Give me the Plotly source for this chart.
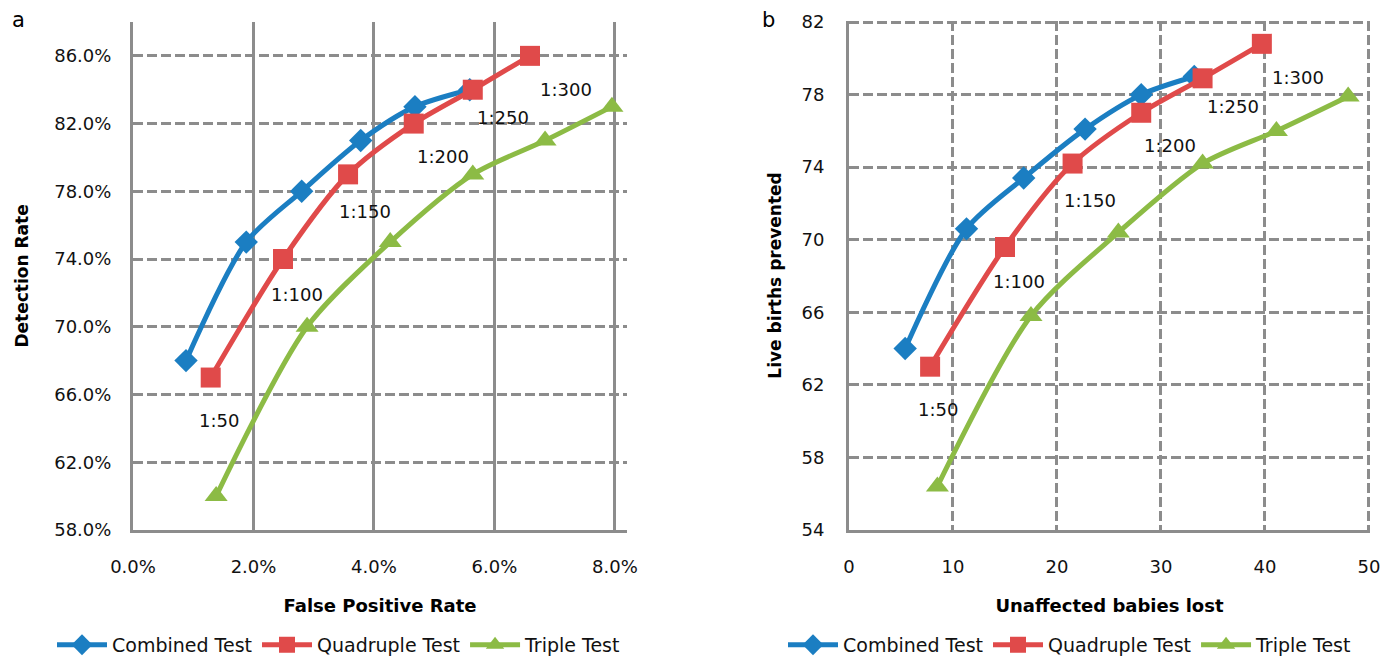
import plotly.graph_objects as go

# ---- data: panel a (false positive rate vs detection rate) ----
cutoffs = ["1:50", "1:100", "1:150", "1:200", "1:250", "1:300"]

comb_fpr = [0.0088, 0.0188, 0.0280, 0.0378, 0.0468, 0.0559]
comb_dr = [0.68, 0.75, 0.78, 0.81, 0.83, 0.84]
quad_fpr = [0.0129, 0.0249, 0.0357, 0.0466, 0.0564, 0.0659]
quad_dr = [0.67, 0.74, 0.79, 0.82, 0.84, 0.86]
trip_fpr = [0.0138, 0.0289, 0.0427, 0.0564, 0.0684, 0.0795]
trip_dr = [0.60, 0.70, 0.75, 0.79, 0.81, 0.83]

# ---- data: panel b (unaffected babies lost vs live births prevented) ----
comb_lost = [5.4, 11.3, 16.8, 22.7, 28.1, 33.2]
comb_prev = [64.0, 70.6, 73.4, 76.1, 78.0, 79.0]
quad_lost = [7.8, 15.0, 21.5, 28.1, 34.0, 39.7]
quad_prev = [63.0, 69.6, 74.2, 77.0, 78.9, 80.8]
trip_lost = [8.5, 17.5, 25.9, 34.0, 41.1, 48.0]
trip_prev = [56.4, 65.8, 70.4, 74.2, 76.0, 77.9]

names = ["Combined Test", "Quadruple Test", "Triple Test"]

# label offsets (pixels) relative to the Quadruple Test points
label_dx = [8, 14, 17, 29, 30, 36]
label_dy = [-43, -35, -37, -33, -28, -34]

# ---- layout helpers ----
W, H = 1380, 664
KY = 672 / 664  # vertical compensation for the page photo


def px(x):
    return x / W


def py(y):
    return 1 - (y * KY) / H


# ---- styles ----
FONT = "DejaVu Sans"
colors = ["#1B7EC2", "#E04A4A", "#8CBB45"]
symbols = ["diamond", "square", "triangle-up"]
msizes = [18, 20, 20]
GRID = "#8C8C8C"

fig = go.Figure()

panel_a = [(comb_fpr, comb_dr), (quad_fpr, quad_dr), (trip_fpr, trip_dr)]
panel_b = [(comb_lost, comb_prev), (quad_lost, quad_prev), (trip_lost, trip_prev)]

for i, (xs, ys) in enumerate(panel_a):
    fig.add_trace(go.Scatter(
        x=xs, y=ys, name=names[i], mode="lines+markers",
        line=dict(color=colors[i], width=5, shape="spline", smoothing=0.8),
        marker=dict(symbol=symbols[i], size=msizes[i], color=colors[i]),
        xaxis="x", yaxis="y", legend="legend", hoverinfo="x+y"))

for i, (xs, ys) in enumerate(panel_b):
    fig.add_trace(go.Scatter(
        x=xs, y=ys, name=names[i], mode="lines+markers",
        line=dict(color=colors[i], width=5, shape="spline", smoothing=0.8),
        marker=dict(symbol=symbols[i], size=msizes[i], color=colors[i]),
        xaxis="x2", yaxis="y2", legend="legend2", hoverinfo="x+y"))

annotations = []
for j, lab in enumerate(cutoffs):
    annotations.append(dict(x=quad_fpr[j], y=quad_dr[j], xref="x", yref="y",
                            text=lab, showarrow=False, xshift=label_dx[j], yshift=label_dy[j],
                            font=dict(family=FONT, size=18, color="#111")))
    annotations.append(dict(x=quad_lost[j], y=quad_prev[j], xref="x2", yref="y2",
                            text=lab, showarrow=False, xshift=label_dx[j], yshift=label_dy[j],
                            font=dict(family=FONT, size=18, color="#111")))

annotations.append(dict(x=px(18), y=py(34), xref="paper", yref="paper", text="a",
                        xanchor="center", yanchor="bottom",
                        showarrow=False, font=dict(family=FONT, size=21, color="#000")))
annotations.append(dict(x=px(768), y=py(34), xref="paper", yref="paper", text="b",
                        xanchor="center", yanchor="bottom",
                        showarrow=False, font=dict(family=FONT, size=21, color="#000")))

tickfont = dict(family=FONT, size=18, color="#111")
ytitlefont = dict(family=FONT, size=17, color="#000", weight="bold")
xtitlefont = dict(family=FONT, size=18, color="#000", weight="bold")

y_top = py(22)
y_bot = py(530)

fig.update_layout(
    width=W, height=H,
    margin=dict(l=0, r=0, t=0, b=0),
    paper_bgcolor="white", plot_bgcolor="white",
    showlegend=True,
    annotations=annotations,
    xaxis=dict(domain=[px(133), px(627)], range=[0, 0.082], anchor="y",
               tickmode="linear", tick0=0, dtick=0.02, tickformat=".1%",
               showgrid=True, gridcolor=GRID, gridwidth=3,
               showline=True, linecolor=GRID, linewidth=3, zeroline=False,
               ticks="", ticklabelstandoff=18, tickfont=tickfont,
               title=dict(text="False Positive Rate", font=xtitlefont, standoff=24),
               automargin=False),
    yaxis=dict(domain=[y_bot, y_top], range=[0.58, 0.88], anchor="x",
               tickmode="linear", tick0=0.58, dtick=0.04, tickformat=".1%",
               showgrid=True, gridcolor=GRID, gridwidth=3, griddash="10px,4px",
               showline=True, linecolor=GRID, linewidth=3, zeroline=False,
               ticks="", ticklabelstandoff=15, tickfont=tickfont,
               title=dict(text="Detection Rate", font=ytitlefont, standoff=22),
               automargin=False),
    xaxis2=dict(domain=[px(849), px(1370)], range=[0, 50.1], anchor="y2",
                tickmode="linear", tick0=0, dtick=10,
                showgrid=True, gridcolor=GRID, gridwidth=3, griddash="10px,4px",
                showline=True, linecolor=GRID, linewidth=3, zeroline=False,
                ticks="", ticklabelstandoff=18, tickfont=tickfont,
                ticklabeloverflow="allow",
                title=dict(text="Unaffected babies lost", font=xtitlefont, standoff=24),
                automargin=False),
    yaxis2=dict(domain=[y_bot, py(21)], range=[54, 82.06], anchor="x2",
                tickmode="linear", tick0=54, dtick=4,
                showgrid=True, gridcolor=GRID, gridwidth=3, griddash="10px,4px",
                showline=True, linecolor=GRID, linewidth=3, zeroline=False,
                ticks="", ticklabelstandoff=18, tickfont=tickfont,
                title=dict(text="Live births prevented", font=ytitlefont, standoff=16),
                automargin=False),
    legend=dict(orientation="h", x=px(339), y=py(645), xanchor="center", yanchor="middle",
                font=dict(family=FONT, size=19, color="#111"), itemwidth=50,
                bgcolor="rgba(0,0,0,0)"),
    legend2=dict(orientation="h", x=px(1070), y=py(645), xanchor="center", yanchor="middle",
                 font=dict(family=FONT, size=19, color="#111"), itemwidth=50,
                 bgcolor="rgba(0,0,0,0)"),
)

# remove the browser's default 8px page margin so the figure sits at the window's corner
fig.write_html("out.html",
               config={"responsive": False, "displayModeBar": False},
               post_script="document.body.style.margin='0px';document.body.style.overflow='hidden';")
